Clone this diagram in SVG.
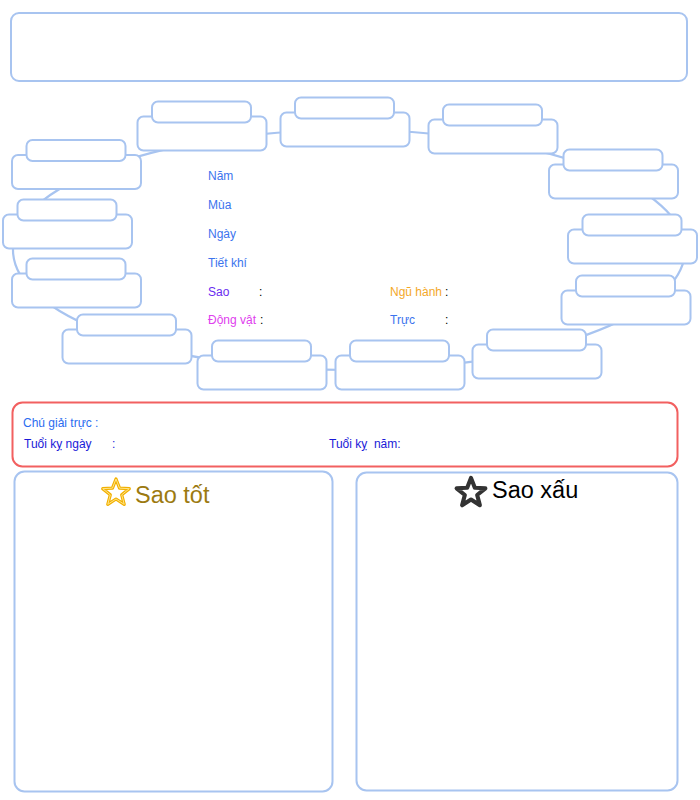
<svg xmlns="http://www.w3.org/2000/svg" xmlns:xlink="http://www.w3.org/1999/xlink" width="700" height="800" viewBox="0 0 700 800">
<style>
.bx{fill:#fff;stroke:#a8c4f0;stroke-width:2}
.con{fill:none;stroke:#a8c4f0;stroke-width:2.2}
.t{font-family:"Liberation Sans",Arial,sans-serif;font-size:12px}
.lb{fill:#3c74ee}
.k{fill:#000}
.lg{font-family:"Liberation Sans",Arial,sans-serif;font-size:12px;white-space:pre}
</style>
<defs>
<path id="star" d="M0,-14 L3.53,-4.85 L13.31,-4.33 L5.71,1.85 L8.23,11.33 L0,6 L-8.23,11.33 L-5.71,1.85 L-13.31,-4.33 L-3.53,-4.85 Z"/>
<g id="pair">
<rect class="bx" x="0" y="15" width="129" height="34" rx="6"/>
<rect class="bx" x="14.5" y="0" width="99" height="21" rx="6"/>
</g>
</defs>
<rect fill="#fff" width="700" height="800"/>
<g id="header"><rect class="bx" x="11" y="13" width="676" height="68" rx="8"/></g>
<g id="connectors"><ellipse class="con" cx="349" cy="250" rx="336" ry="120"/></g>
<g id="n1"><use xlink:href="#pair" x="12" y="140"/></g>
<g id="n2"><use xlink:href="#pair" x="137.5" y="101.5"/></g>
<g id="n3"><use xlink:href="#pair" x="280.5" y="97.5"/></g>
<g id="n4"><use xlink:href="#pair" x="428.5" y="104.5"/></g>
<g id="n5"><use xlink:href="#pair" x="549" y="149.5"/></g>
<g id="n6"><use xlink:href="#pair" x="568" y="214.5"/></g>
<g id="n7"><use xlink:href="#pair" x="561.5" y="275.5"/></g>
<g id="n8"><use xlink:href="#pair" x="472.5" y="329.5"/></g>
<g id="n9"><use xlink:href="#pair" x="335.5" y="340.5"/></g>
<g id="n10"><use xlink:href="#pair" x="197.5" y="340.5"/></g>
<g id="n11"><use xlink:href="#pair" x="62.5" y="314.5"/></g>
<g id="n12"><use xlink:href="#pair" x="12" y="258.5"/></g>
<g id="n13"><use xlink:href="#pair" x="3" y="199.5"/></g>
<g id="info" class="t">
<text class="lb" x="208" y="180">Năm</text>
<text class="lb" x="208" y="209">Mùa</text>
<text class="lb" x="208" y="238">Ngày</text>
<text class="lb" x="208" y="267">Tiết khí</text>
<text x="208" y="296" fill="#6a2cf0">Sao</text><text class="k" x="259" y="296">:</text>
<text x="208" y="324" fill="#e040ee">Động vật</text><text class="k" x="260" y="324">:</text>
<text x="390" y="296" fill="#f4a828">Ngũ hành</text><text class="k" x="445" y="296">:</text>
<text class="lb" x="390" y="324">Trực</text><text class="k" x="445" y="324">:</text>
</g>
<g id="legend">
<rect x="12.5" y="402.5" width="665" height="64" rx="10" fill="#fff" stroke="#f26060" stroke-width="2"/>
<text class="lg" x="23" y="427" fill="#2a6cf0">Chú giải trực :</text>
<text class="lg" x="24" y="448" fill="#1a1ad8">Tuổi kỵ ngày</text><text class="lg" x="112" y="448" fill="#1a1ad8">:</text>
<text class="lg" x="329" y="448" fill="#1a1ad8" xml:space="preserve">Tuổi kỵ  năm:</text>
</g>
<g id="good">
<rect class="bx" x="14.5" y="471.5" width="318" height="320" rx="10"/>
<use xlink:href="#star" transform="translate(116,493)" fill="none" stroke="#f2b000" stroke-width="3.2" stroke-linejoin="round"/>
<use xlink:href="#star" transform="translate(116,493)" fill="none" stroke="#ffe58a" stroke-width="1" stroke-linejoin="round"/>
<text x="135" y="503" font-family="Liberation Sans,Arial,sans-serif" font-size="23.5" fill="#9c7a10">Sao tốt</text>
</g>
<g id="bad">
<rect class="bx" x="356.5" y="472.5" width="321" height="318" rx="10"/>
<use xlink:href="#star" transform="translate(471,493) scale(1.08)" fill="#fff" stroke="#333" stroke-width="3.8" stroke-linejoin="round"/>
<text x="492" y="498" font-family="Liberation Sans,Arial,sans-serif" font-size="23.5" fill="#000">Sao xấu</text>
</g>
</svg>
